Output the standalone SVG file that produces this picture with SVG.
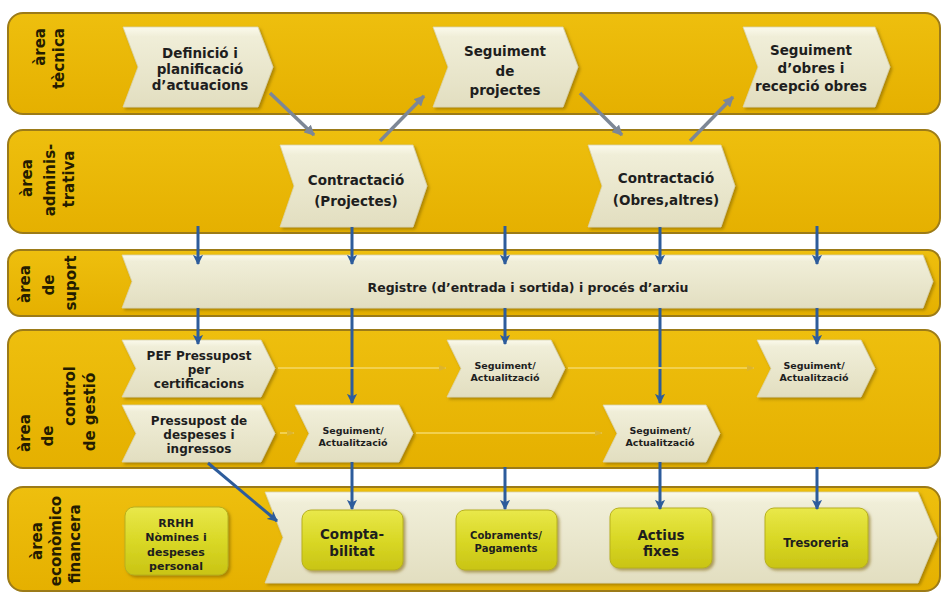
<svg xmlns="http://www.w3.org/2000/svg" width="944" height="593" viewBox="0 0 944 593">
  <defs>
    <linearGradient id="bandFill" x1="0" y1="0" x2="0" y2="1">
      <stop offset="0" stop-color="#EEBF0E"/>
      <stop offset="1" stop-color="#E5B000"/>
    </linearGradient>
    <linearGradient id="chevFill" x1="0" y1="0" x2="0" y2="1">
      <stop offset="0" stop-color="#FBFAEC"/>
      <stop offset="0.12" stop-color="#F0EED8"/>
      <stop offset="1" stop-color="#E2DEC0"/>
    </linearGradient>
    <linearGradient id="boxFill" x1="0" y1="0" x2="0" y2="1">
      <stop offset="0" stop-color="#E9E84A"/>
      <stop offset="0.5" stop-color="#D9D826"/>
      <stop offset="1" stop-color="#C9C414"/>
    </linearGradient>
    <filter id="shadow" x="-10%" y="-10%" width="125%" height="130%">
      <feDropShadow dx="2" dy="2" stdDeviation="1.5" flood-color="#7A5C00" flood-opacity="0.55"/>
    </filter>
    <marker id="headBlue" viewBox="0 0 10 10" refX="9" refY="5" markerWidth="3.4" markerHeight="3.4" orient="auto" markerUnits="strokeWidth">
      <path d="M0,0 L10,5 L0,10 L2.5,5 Z" fill="#2D5C9C"/>
    </marker>
    <marker id="headGrey" viewBox="0 0 10 10" refX="9" refY="5" markerWidth="3" markerHeight="3" orient="auto" markerUnits="strokeWidth">
      <path d="M0,0 L10,5 L0,10 Z" fill="#7D8796"/>
    </marker>
    <marker id="headFaint" viewBox="0 0 10 10" refX="9" refY="5" markerWidth="4" markerHeight="4" orient="auto" markerUnits="strokeWidth">
      <path d="M0,1 L10,5 L0,9 Z" fill="#DDB42C"/>
    </marker>
    <style>
      .band { fill: url(#bandFill); stroke: #9C7B18; stroke-width: 2; }
      .chev { fill: url(#chevFill); stroke: #D8D3AE; stroke-width: 0.8; filter: url(#shadow); }
      .box { fill: url(#boxFill); stroke: #B7B01E; stroke-width: 1; filter: url(#shadow); }
      text { font-family: "DejaVu Sans", "Liberation Sans", sans-serif; font-weight: bold; fill: #1E1E1E; text-anchor: middle; }
      .vl { font-size: 15px; fill: #241C00; }
      .t135 { font-size: 13.5px; }
      .t12 { font-size: 12px; }
      .t95 { font-size: 9.5px; }
      .t11 { font-size: 11px; }
      .blue { stroke: #2D5C9C; stroke-width: 3; fill: none; marker-end: url(#headBlue); }
      .grey { stroke: #7D8796; stroke-width: 3.5; fill: none; marker-end: url(#headGrey); }
      .faint { stroke: #F2D04E; stroke-width: 2; fill: none; marker-end: url(#headFaint); }
    </style>
  </defs>

  <rect width="944" height="593" fill="#FFFFFF"/>

  <!-- swim-lane bands -->
  <g id="bands">
    <rect id="band-tecnica" class="band" x="8" y="13" width="932" height="101" rx="15"/>
    <rect id="band-administrativa" class="band" x="8" y="130" width="932" height="103" rx="15"/>
    <rect id="band-suport" class="band" x="8" y="250" width="932" height="66" rx="12"/>
    <rect id="band-control" class="band" x="8" y="330" width="932" height="138" rx="15"/>
    <rect id="band-economic" class="band" x="8" y="487" width="932" height="104" rx="15"/>
  </g>

  <!-- lane titles, written bottom-to-top -->
  <g id="lane-titles" transform="rotate(-90)">
    <text class="vl" style="text-anchor:end"><tspan x="-28" y="45">àrea</tspan><tspan x="-28" y="64">tècnica</tspan></text>
    <text class="vl"><tspan x="-178" y="32">àrea</tspan><tspan x="-180" y="55">adminis-</tspan><tspan x="-179" y="74">trativa</tspan></text>
    <text class="vl"><tspan x="-284" y="30">àrea</tspan><tspan x="-285" y="54">de</tspan><tspan x="-283" y="76">suport</tspan></text>
    <text class="vl"><tspan x="-433" y="30">àrea</tspan><tspan x="-436" y="53">de</tspan><tspan x="-396" y="75">control</tspan><tspan x="-412" y="95">de gestió</tspan></text>
    <text class="vl"><tspan x="-541" y="42">àrea</tspan><tspan x="-541" y="61">econòmico</tspan><tspan x="-544" y="80">financera</tspan></text>
  </g>

  <!-- área tècnica -->
  <g id="n-definicio">
    <path class="chev" d="M123 27 L258 27 L273 67 L258 107 L123 107 L138 67 Z"/>
    <text class="t135"><tspan x="200" y="58">Definició i</tspan><tspan x="200" y="74">planificació</tspan><tspan x="200" y="90">d’actuacions</tspan></text>
  </g>
  <g id="n-seguiment-projectes">
    <path class="chev" d="M433 27 L563 27 L578 67 L563 107 L433 107 L448 67 Z"/>
    <text class="t135"><tspan x="505" y="56">Seguiment</tspan><tspan x="505" y="76">de</tspan><tspan x="505" y="95">projectes</tspan></text>
  </g>
  <g id="n-seguiment-obres">
    <path class="chev" d="M743 27 L875 27 L890 67 L875 107 L743 107 L758 67 Z"/>
    <text class="t135"><tspan x="811" y="55">Seguiment</tspan><tspan x="811" y="73">d’obres i</tspan><tspan x="811" y="91">recepció obres</tspan></text>
  </g>

  <!-- àrea administrativa -->
  <g id="n-contractacio-projectes">
    <path class="chev" d="M280 145 L413 145 L427 186 L413 227 L280 227 L294 186 Z"/>
    <text class="t135"><tspan x="356" y="185">Contractació</tspan><tspan x="356" y="206">(Projectes)</tspan></text>
  </g>
  <g id="n-contractacio-obres">
    <path class="chev" d="M588 145 L721 145 L735 186 L721 227 L588 227 L602 186 Z"/>
    <text class="t135"><tspan x="666" y="183">Contractació</tspan><tspan x="666" y="205">(Obres,altres)</tspan></text>
  </g>

  <!-- àrea de suport -->
  <g id="n-registre">
    <path class="chev" d="M122 255 L923 255 L933 281.5 L923 308 L122 308 L132 281.5 Z"/>
    <text style="font-size:12.5px"><tspan x="528" y="292">Registre (d’entrada i sortida) i procés d’arxiu</tspan></text>
  </g>

  <!-- àrea de control de gestió -->
  <g id="n-pef">
    <path class="chev" d="M122 340 L261 340 L275 368.5 L261 397 L122 397 L136 368.5 Z"/>
    <text class="t12"><tspan x="199" y="360">PEF Pressupost</tspan><tspan x="199" y="374">per</tspan><tspan x="199" y="388">certificacions</tspan></text>
  </g>
  <g id="n-pressupost">
    <path class="chev" d="M122 405 L261 405 L275 433.5 L261 462 L122 462 L136 433.5 Z"/>
    <text class="t12"><tspan x="199" y="425">Pressupost de</tspan><tspan x="199" y="439">despeses i</tspan><tspan x="199" y="453">ingressos</tspan></text>
  </g>
  <g id="n-seguiment-1">
    <path class="chev" d="M295 405 L399 405 L413 433.5 L399 462 L295 462 L309 433.5 Z"/>
    <text class="t95"><tspan x="353" y="434">Seguiment/</tspan><tspan x="353" y="446">Actualització</tspan></text>
  </g>
  <g id="n-seguiment-2">
    <path class="chev" d="M447 340 L551 340 L565 368.5 L551 397 L447 397 L461 368.5 Z"/>
    <text class="t95"><tspan x="505" y="369">Seguiment/</tspan><tspan x="505" y="381">Actualització</tspan></text>
  </g>
  <g id="n-seguiment-3">
    <path class="chev" d="M603 405 L706 405 L720 433.5 L706 462 L603 462 L617 433.5 Z"/>
    <text class="t95"><tspan x="660" y="434">Seguiment/</tspan><tspan x="660" y="446">Actualització</tspan></text>
  </g>
  <g id="n-seguiment-4">
    <path class="chev" d="M757 340 L861 340 L875 368.5 L861 397 L757 397 L771 368.5 Z"/>
    <text class="t95"><tspan x="814" y="369">Seguiment/</tspan><tspan x="814" y="381">Actualització</tspan></text>
  </g>

  <!-- àrea econòmico financera -->
  <g id="n-flux-economic">
    <path class="chev" d="M265 492 L918 492 L937 537.5 L918 583 L265 583 L283 537.5 Z"/>
  </g>
  <g id="n-rrhh">
    <rect class="box" x="125" y="507" width="103" height="68" rx="9"/>
    <text class="t11"><tspan x="176" y="527">RRHH</tspan><tspan x="176" y="541">Nòmines i</tspan><tspan x="176" y="556">despeses</tspan><tspan x="176" y="570">personal</tspan></text>
  </g>
  <g id="n-comptabilitat">
    <rect class="box" x="302" y="510" width="101" height="60" rx="9"/>
    <text class="t135"><tspan x="352" y="539">Compta-</tspan><tspan x="352" y="556">bilitat</tspan></text>
  </g>
  <g id="n-cobraments">
    <rect class="box" x="456" y="510" width="101" height="60" rx="9"/>
    <text style="font-size:10px"><tspan x="506" y="539">Cobraments/</tspan><tspan x="506" y="552">Pagaments</tspan></text>
  </g>
  <g id="n-actius">
    <rect class="box" x="610" y="508" width="102" height="60" rx="9"/>
    <text class="t135"><tspan x="661" y="540">Actius</tspan><tspan x="661" y="556">fixes</tspan></text>
  </g>
  <g id="n-tresoreria">
    <rect class="box" x="765" y="508" width="103" height="60" rx="9"/>
    <text style="font-size:11.5px"><tspan x="816" y="547">Tresoreria</tspan></text>
  </g>

  <!-- connectors, drawn last so arrowheads sit on top of the shapes -->
  <g id="connectors">
    <line class="grey" x1="270" y1="93" x2="314" y2="135"/>
    <line class="grey" x1="380" y1="141" x2="424" y2="96"/>
    <line class="grey" x1="580" y1="93" x2="622" y2="135"/>
    <line class="grey" x1="690" y1="141" x2="733" y2="97"/>

    <line class="blue" x1="198" y1="226" x2="198" y2="264"/>
    <line class="blue" x1="352" y1="227" x2="352" y2="264"/>
    <line class="blue" x1="505" y1="226" x2="505" y2="264"/>
    <line class="blue" x1="660" y1="227" x2="660" y2="264"/>
    <line class="blue" x1="817" y1="226" x2="817" y2="264"/>

    <line class="blue" x1="198" y1="308" x2="198" y2="344"/>
    <line class="blue" x1="352" y1="308" x2="352" y2="403"/>
    <line class="blue" x1="505" y1="308" x2="505" y2="344"/>
    <line class="blue" x1="660" y1="308" x2="660" y2="403"/>
    <line class="blue" x1="817" y1="308" x2="817" y2="344"/>

    <line class="blue" x1="352" y1="462" x2="352" y2="509"/>
    <line class="blue" x1="505" y1="467" x2="505" y2="509"/>
    <line class="blue" x1="660" y1="462" x2="660" y2="509"/>
    <line class="blue" x1="817" y1="467" x2="817" y2="509"/>
    <line class="blue" x1="208" y1="463" x2="277" y2="521"/>

    <line class="faint" x1="278" y1="368" x2="446" y2="368"/>
    <line class="faint" x1="568" y1="368" x2="754" y2="368"/>
    <line class="faint" x1="280" y1="433" x2="294" y2="433"/>
    <line class="faint" x1="416" y1="433" x2="602" y2="433"/>
  </g>
</svg>
